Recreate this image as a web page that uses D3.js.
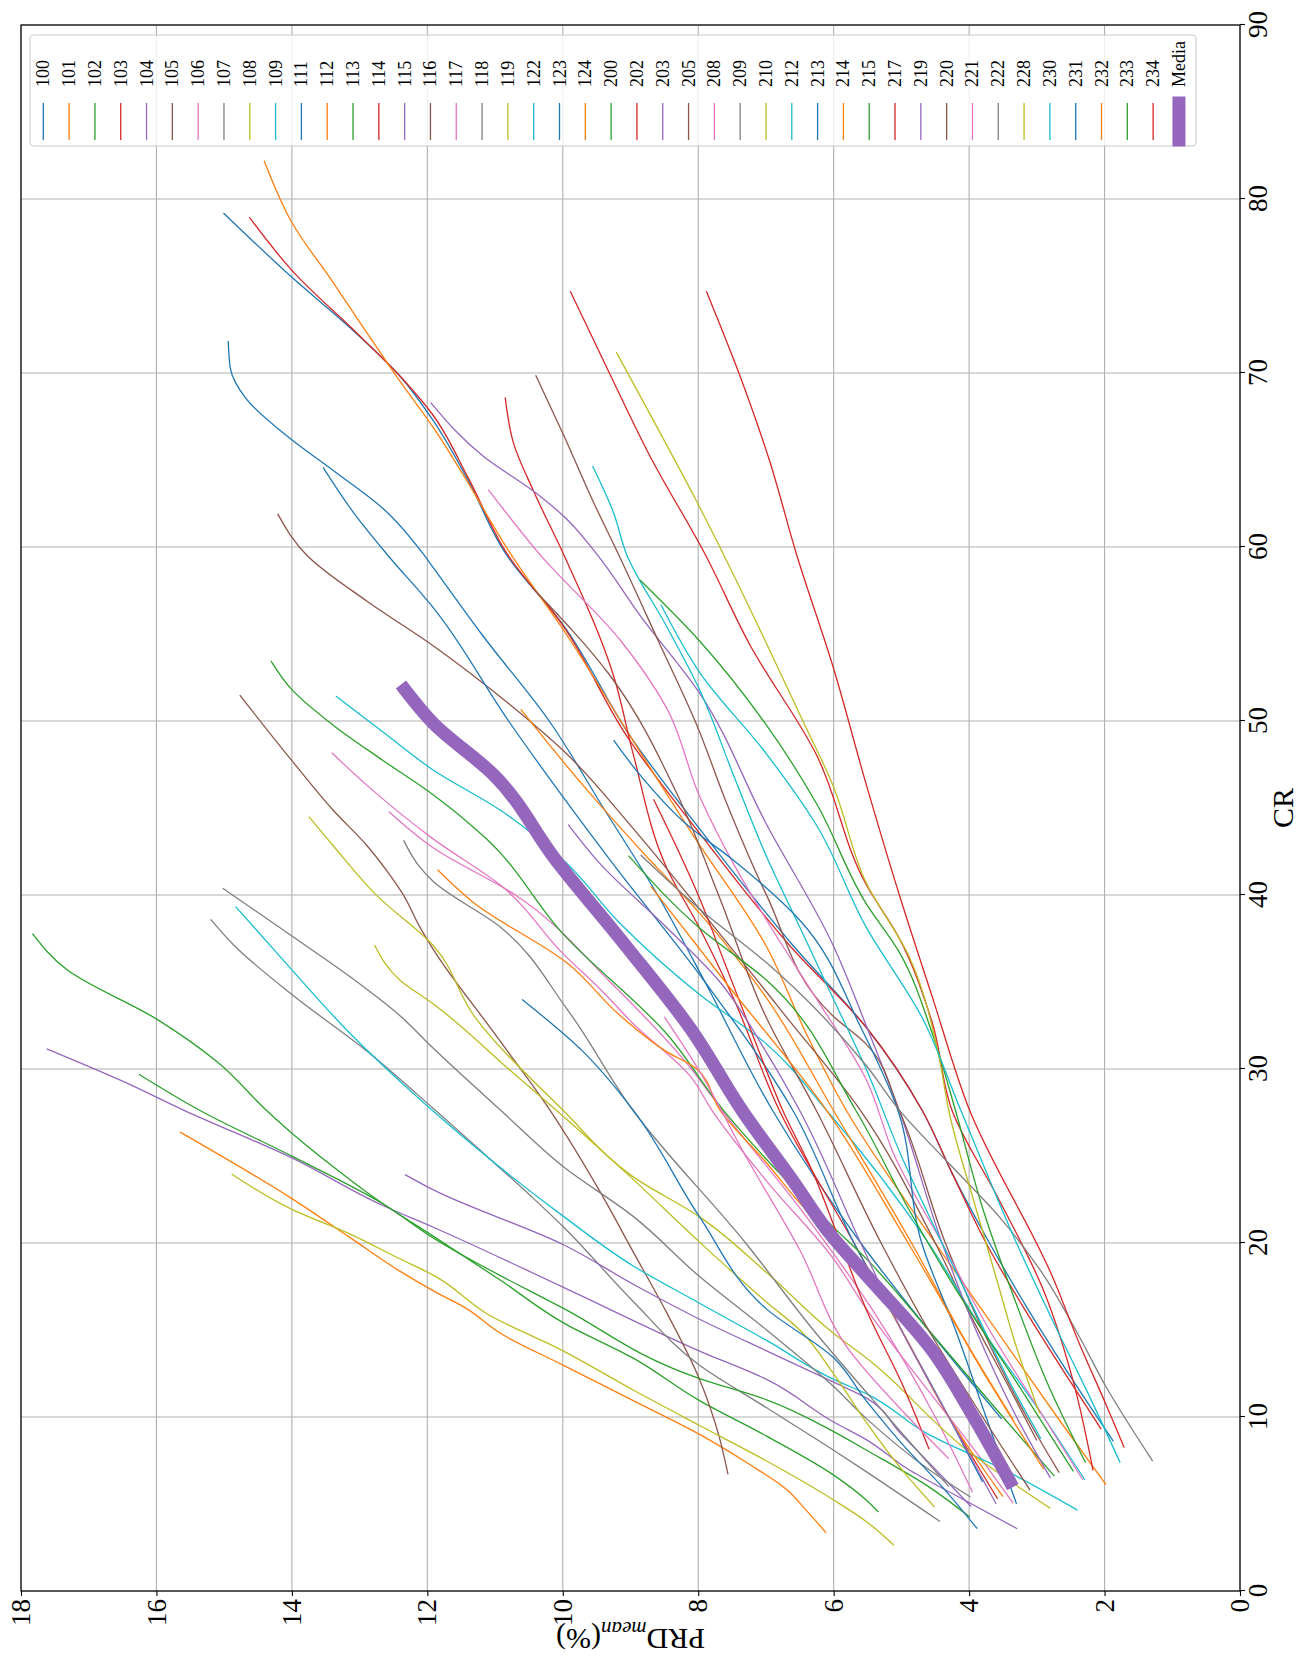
<!DOCTYPE html>
<html>
<head>
<meta charset="utf-8">
<script src="https://cdn.jsdelivr.net/npm/d3@7"></script>
<style>
  html, body { margin: 0; padding: 0; background: #ffffff; }
  svg { display: block; }
  text { font-family: "Liberation Serif", "Times New Roman", serif; fill: #000; }
</style>
</head>
<body>
<svg id="chart" width="1298" height="1664"></svg>
<script>
// Record names in legend order
const records = ["100","101","102","103","104","105","106","107","108","109",
  "111","112","113","114","115","116","117","118","119","122","123","124",
  "200","202","203","205","208","209","210","212","213","214","215","217",
  "219","220","221","222","228","230","231","232","233","234"];

// Axis ticks
const crTicks  = [0, 10, 20, 30, 40, 50, 60, 70, 80, 90];
const prdTicks = [0, 2, 4, 6, 8, 10, 12, 14, 16, 18];

// PRD_mean (%) against CR for each record: [CR, PRD]
const s100 = [[8.6,1.87],[12,2.45],[16,3.1],[20,3.7],[24,4.25],[27.6,4.69],[32.4,5.52],[37.1,6.6],[43.4,7.9],[49.1,9.0],[55.5,9.99],[59.6,10.84],[64,11.42],[67.3,11.92],[69.8,12.4],[72.6,13.14],[75.5,14.0],[79.2,15.01]];
const s101 = [[3.34,6.11],[4.62,6.4],[5.85,6.7],[7.27,7.24],[9.0,7.98],[10.94,8.96],[12.97,9.99],[14.81,10.92],[16.23,11.42],[17.25,11.91],[18.37,12.4],[20.31,13.14],[22.55,14.0],[26.37,15.65]];
const s102 = [[4.54,5.34],[5.23,5.52],[6.66,6.0],[8.9,6.99],[10.94,7.98],[13.38,8.96],[15.41,9.99],[17.86,10.92],[20.41,11.92],[22.24,12.65],[24.38,13.39],[26.31,14.0],[27.6,14.37],[30.4,15.1],[32.85,15.99],[35.7,17.32],[37.78,17.83]];
const s103 = [[9.3,2.05],[12,2.5],[16,3.15],[20,3.75],[24,4.25],[27.6,4.69],[32.4,5.52],[37.1,6.65],[43.4,7.95],[49.1,9.05],[55.5,10.0],[59.6,10.82],[64,11.4],[67.6,11.92],[69.6,12.35],[72.1,12.99],[75.9,14.0],[78.96,14.63]];
const s104 = [[3.58,3.29],[5.5,4.2],[7,4.9],[8.7,5.52],[9.71,6.0],[12.16,6.99],[13.79,7.98],[17.45,9.99],[20.92,11.92],[22.14,12.65],[24.89,14.0],[27.64,15.6],[29.3,16.5],[31.16,17.62]];
const s105 = [[6.7,7.56],[9,7.7],[12.16,7.98],[16.03,8.47],[19.49,8.96],[22.95,9.45],[27.64,10.19],[32,11.0],[36.92,11.92],[38.15,12.11],[39.98,12.35],[41.4,12.6],[42.83,12.89],[44.87,13.39],[47.72,14.0],[51.49,14.77]];
const s106 = [[5.05,3.35],[8,3.9],[11,4.5],[16.23,5.52],[19.08,6.0],[23.56,6.99],[27.64,7.8],[29.5,8.1],[32.6,8.96],[34.6,9.45],[36.6,9.99],[40.5,10.9],[43.24,11.92],[46.3,12.89],[48.17,13.41]];
const s107 = [[3.99,4.43],[6.86,5.52],[8.09,6.0],[10.53,6.99],[12.97,7.98],[16.64,8.96],[20.92,9.99],[22.55,10.43],[25.19,11.18],[27.76,11.92],[31.02,12.89],[34.28,14.0],[37.13,14.86],[38.6,15.2]];
const s108 = [[2.63,5.11],[4.0,5.52],[5.23,6.0],[7.47,6.99],[9.51,7.98],[11.55,8.96],[13.79,9.99],[15.82,11.07],[18.17,11.92],[19.08,12.4],[20.51,13.14],[21.93,14.0],[23.97,14.89]];
const s109 = [[4.65,2.4],[7,3.5],[9,4.6],[11.34,5.52],[12.16,6.0],[14.4,6.99],[16.54,7.98],[18.68,8.96],[21.53,9.99],[25.6,11.32],[27.6,11.92],[30.0,12.6],[32.04,13.14],[35.7,14.0],[39.33,14.83]];
const s111 = [[9.89,3.52],[15,4.6],[20,5.6],[27.6,6.9],[35,7.9],[40,8.6],[45,9.4],[50,10.2],[55,11.2],[58.8,11.91],[59.6,12.06],[62.2,12.65],[64.4,13.39],[66.25,14.03],[68.5,14.67],[70.3,14.91],[71.84,14.94]];
const s112 = [[6.11,1.98],[10,2.7],[15,3.6],[20,4.5],[27.6,5.81],[32,6.4],[37.1,7.0],[43.4,8.07],[49.1,9.0],[55,9.95],[59.6,10.77],[64.4,11.51],[66.8,11.9],[69.5,12.4],[72.35,12.9],[75.2,13.39],[78.65,14.0],[82.2,14.41]];
const s113 = [[4.25,3.99],[6.0,4.6],[8.1,5.52],[9.16,6.0],[10.99,6.99],[12.21,7.98],[16.24,9.99],[20.3,11.92],[22.24,12.65],[24.99,14.0],[27.6,15.35],[29.7,16.26]];
const s114 = [[5.3,3.58],[10,4.3],[15,5.0],[20,5.7],[27.6,6.8],[34.07,7.48],[38.1,7.98],[41.6,8.47],[48.1,8.96],[52.6,9.25],[59.6,9.99],[63.2,10.43],[66.0,10.73],[68.6,10.85]];
const s115 = [[4.85,3.97],[7,4.5],[9,5.0],[11.1,5.52],[12.0,6.0],[13.8,6.99],[15.62,7.98],[17.5,8.9],[19.9,9.99],[23.05,11.91],[23.93,12.33]];
const s116 = [[8.65,3.0],[12,3.45],[16,4.0],[20,4.5],[27.6,5.6],[33,6.7],[39.2,7.98],[44,9.0],[48.1,9.94],[51,10.8],[54.34,11.92],[56.88,12.89],[59.53,13.78],[61.9,14.21]];
const s117 = [[5.68,3.95],[10,4.5],[16,5.4],[22,6.5],[27.64,7.65],[30,8.1],[35,9.3],[40,10.7],[42.73,11.92],[44.8,12.57]];
const s118 = [[5.4,3.98],[7,4.6],[9.92,5.52],[11.75,6.0],[15.0,6.99],[18.07,7.98],[21.53,8.96],[24.38,9.99],[27.64,10.92],[31.22,11.92],[33.05,12.4],[35.3,13.14],[37.64,14.0],[40.39,15.02]];
const s119 = [[4.75,2.8],[8,4.0],[13.4,5.52],[14.8,6.0],[18.3,6.99],[21.5,7.98],[23.8,8.96],[27.64,10.0],[33,11.3],[37.13,11.92],[39.98,12.75],[42.83,13.39],[44.5,13.75]];
const s122 = [[6.38,2.29],[10,2.9],[15,3.8],[20,4.6],[27.6,6.1],[31.43,6.99],[34.28,7.98],[38.35,9.15],[42.0,9.99],[44.87,10.92],[47.2,11.92],[49.35,12.65],[51.43,13.35]];
const s123 = [[6.27,3.8],[10,4.3],[15,5.0],[20,5.7],[27.6,6.6],[35,7.9],[42,9.3],[50,10.8],[56.5,11.91],[59.6,12.6],[61.98,13.09],[64.58,13.54]];
const s124 = [[9.84,3.35],[14,4.0],[20,4.85],[27.6,6.0],[34.07,6.99],[38.96,7.98],[42.2,8.76],[46.3,9.7],[50.67,10.62]];
const s200 = [[6.6,2.74],[10,3.5],[15,4.6],[19.1,5.52],[20.9,6.0],[24.8,6.99],[27.64,7.63],[32.04,8.47],[37.74,9.99],[43.2,11.12],[45.78,11.92],[47.72,12.65],[49.76,13.39],[51.8,14.0],[53.46,14.31]];
const s202 = [[6.93,2.17],[12.16,2.47],[17.45,2.92],[22.5,3.56],[27.6,4.25],[32.6,4.54],[37.5,5.03],[40.6,5.52],[48.1,6.26],[54.4,7.24],[59.6,7.9],[65.2,8.71],[69.9,9.3],[74.7,9.89]];
const s203 = [[6.5,2.8],[10,3.3],[15,3.9],[20,4.4],[27.6,5.03],[32.6,5.53],[37.13,6.01],[44.05,6.99],[51.6,7.98],[56.07,8.86],[59.6,9.5],[61.6,9.94],[63.2,10.43],[65.2,11.17],[68.3,11.95]];
const s205 = [[6.8,2.67],[10,3.15],[15,3.8],[20,4.35],[27.6,5.03],[31.43,5.52],[33.05,6.01],[39.98,6.99],[45.27,7.58],[49.76,8.02],[54.44,8.57],[59.6,9.18],[62.6,9.55],[66.45,9.99],[69.87,10.4]];
const s208 = [[6.38,2.32],[10,2.9],[15,3.7],[20,4.4],[25,5.1],[29.4,5.52],[34.07,6.26],[38.55,6.99],[41.8,7.48],[45.68,7.98],[50.77,8.47],[54.64,9.15],[59.53,10.33],[63.3,11.1]];
const s209 = [[6.0,4.3],[10,5.2],[15,6.3],[20,7.3],[27.6,8.96],[33.46,9.94],[38.15,10.92],[40.8,11.92],[41.6,12.11],[43.14,12.35]];
const s210 = [[4.82,4.51],[7,5.0],[9.7,5.52],[12.48,6.0],[15.0,6.5],[16.6,6.99],[20.05,7.98],[23.8,9.0],[27.64,10.1],[30,10.8],[33.77,11.92],[35.09,12.4],[37.13,12.78]];
const s212 = [[8.75,2.94],[12,3.4],[16,3.9],[20,4.4],[25,5.0],[30.0,5.52],[34.07,6.01],[38.15,6.5],[42.2,6.99],[46.9,7.48],[51.8,7.98],[55.46,8.47],[59.6,9.06],[61.97,9.25],[64.66,9.56]];
const s213 = [[5.0,3.3],[10,3.75],[15,4.2],[20,4.7],[27.6,5.05],[32.4,5.6],[38.55,6.5],[42,7.48],[44.05,8.17],[46.9,8.86],[48.9,9.25]];
const s214 = [[5.42,3.5],[10,4.3],[15,5.0],[18.5,5.52],[22.3,6.5],[24.6,6.99],[27.64,7.68],[30,8.02],[31,8.47],[33.06,9.15],[36.1,9.94],[39.57,11.32],[41.45,11.85]];
const s215 = [[7.37,2.28],[12,2.85],[17,3.35],[22,3.8],[27.6,4.2],[32.0,4.54],[36.7,5.03],[39.5,5.52],[45.3,6.26],[49.75,6.99],[54.6,7.98],[58.1,8.86]];
const s217 = [[8.14,4.59],[12,5.0],[16,5.5],[20,5.9],[24,6.3],[27.6,6.75],[32,7.2],[36,7.6],[40,8.0],[43,8.35],[45.5,8.66]];
const s219 = [[5.0,3.6],[10,4.3],[15,5.0],[20,5.6],[27.6,6.5],[31,7.0],[35.1,7.7],[38.15,8.47],[41.8,9.45],[44.05,9.92]];
const s220 = [[5.8,3.1],[10,3.8],[15,4.6],[20,5.3],[27.64,6.26],[33,7.0],[40,7.7],[45.7,8.3],[52.6,9.3],[57.7,10.46]];
const s221 = [[7.6,4.3],[10,4.9],[14,5.8],[19.6,6.5],[25,7.3],[30,8.0],[33,8.5]];
const s222 = [[7.47,1.29],[11.75,1.98],[14.6,2.37],[18.27,2.92],[21.53,3.56],[24.58,4.3],[27.64,5.03],[30.2,5.52],[36.1,6.99],[39.2,7.98],[42.3,8.85]];
const s228 = [[10.22,2.96],[14,3.3],[18,3.6],[22,3.9],[27.6,4.3],[30.6,4.44],[36.5,4.89],[40.7,5.52],[46.3,6.01],[50.37,6.5],[54.44,6.99],[59.6,7.63],[62.6,8.02],[67.26,8.66],[71.2,9.21]];
const s230 = [[7.37,1.77],[11,2.2],[15,2.7],[20,3.3],[27.6,4.12],[33,4.7],[38.15,5.52],[44.05,6.26],[48.1,6.99],[52.8,7.98],[56.68,8.55]];
const s231 = [[3.58,3.88],[6,4.4],[8.5,5.0],[10.94,5.52],[13.4,6.0],[16.2,6.99],[21.5,7.98],[27.64,8.96],[31,9.7],[34.0,10.6]];
const s232 = [[7.0,2.9],[12,3.7],[20,4.9],[27.6,6.1],[35,7.6],[40.5,8.7]];
const s233 = [[6.88,2.46],[12,3.3],[18,4.3],[22,4.9],[27.6,5.67],[35.1,6.99],[38.1,7.98],[42.26,9.03]];
const s234 = [[8.25,1.71],[10.73,1.98],[14.2,2.37],[18.07,2.77],[27.7,4.0],[34.1,4.54],[40,5.03],[46.5,5.53],[53,6.0],[59.6,6.55],[65,6.95],[69.9,7.39],[74.7,7.88]];

// Mean curve over all records
const media = [[6.3,3.4],[10.1,3.95],[13.8,4.54],[18.2,5.53],[20.5,6.05],[23.56,6.6],[27.6,7.35],[32.24,8.1],[37.13,9.08],[42.0,10.1],[46.9,11.02],[49.9,11.92],[51.8,12.33]];

const seriesValues = [s100,s101,s102,s103,s104,s105,s106,s107,s108,s109,
  s111,s112,s113,s114,s115,s116,s117,s118,s119,s122,s123,s124,
  s200,s202,s203,s205,s208,s209,s210,s212,s213,s214,s215,s217,
  s219,s220,s221,s222,s228,s230,s231,s232,s233,s234];

const palette = ["#1f77b4","#ff7f0e","#2ca02c","#d62728","#9467bd",
                 "#8c564b","#e377c2","#7f7f7f","#bcbd22","#17becf"];

// The figure is laid out landscape (CR horizontal) and then turned a quarter
// turn counter-clockwise onto the portrait page.
const PAGE_H = 1664;
const svg = d3.select("#chart");
const g = svg.append("g").attr("transform", `translate(0,${PAGE_H}) rotate(-90)`);

const x = d3.scaleLinear().domain([0, 90]).range([73, 1639]);
const y = d3.scaleLinear().domain([0, 18]).range([1240, 21]);

// grid
const grid = g.append("g").attr("stroke", "#b0b0b0").attr("stroke-width", 1.1);
grid.selectAll("line.gx").data(crTicks).join("line")
  .attr("x1", d => x(d)).attr("x2", d => x(d))
  .attr("y1", y(0)).attr("y2", y(18));
grid.selectAll("line.gy").data(prdTicks).join("line")
  .attr("y1", d => y(d)).attr("y2", d => y(d))
  .attr("x1", x(0)).attr("x2", x(90));

// record curves
const line = d3.line()
  .x(d => x(d[0])).y(d => y(d[1]))
  .curve(d3.curveMonotoneX);

const plot = g.append("g").attr("fill", "none");
records.forEach((rec, i) => {
  const pts = seriesValues[i].slice().sort((a, b) => a[0] - b[0]);
  plot.append("path")
    .attr("d", line(pts))
    .attr("stroke", palette[i % 10])
    .attr("stroke-width", 1.3)
    .attr("stroke-linejoin", "round");
});

// mean curve
plot.append("path")
  .attr("d", line(media.slice().sort((a, b) => a[0] - b[0])))
  .attr("stroke", palette[records.length % 10])
  .attr("stroke-width", 13)
  .attr("stroke-linecap", "square")
  .attr("stroke-linejoin", "round");

// axes
const xAxis = d3.axisBottom(x).tickValues(crTicks).tickSize(5).tickPadding(3).tickFormat(d3.format("d"));
const yAxis = d3.axisLeft(y).tickValues(prdTicks).tickSize(5).tickPadding(3).tickFormat(d3.format("d"));

const gx = g.append("g").attr("transform", `translate(0,${y(0)})`).call(xAxis);
const gy = g.append("g").attr("transform", `translate(${x(0)},0)`).call(yAxis);
[gx, gy].forEach(a => {
  a.select(".domain").remove();
  a.selectAll(".tick line").attr("stroke", "#000").attr("stroke-width", 1.1);
  a.selectAll(".tick text")
    .attr("font-family", "Liberation Serif, Times New Roman, serif")
    .attr("font-size", 27).attr("fill", "#000");
});

// frame
g.append("rect")
  .attr("x", x(0)).attr("y", y(18))
  .attr("width", x(90) - x(0)).attr("height", y(0) - y(18))
  .attr("fill", "none").attr("stroke", "#000").attr("stroke-width", 1.2);

// axis titles
g.append("text")
  .attr("x", (x(0) + x(90)) / 2).attr("y", 1293)
  .attr("text-anchor", "middle").attr("font-size", 30)
  .text("CR");

const yl = g.append("text")
  .attr("transform", `translate(35,${(y(0) + y(18)) / 2}) rotate(-90)`)
  .attr("text-anchor", "middle").attr("font-size", 30);
yl.append("tspan").text("PRD");
yl.append("tspan").attr("font-size", 21).attr("font-style", "italic").attr("dy", 7).text("mean");
yl.append("tspan").attr("dy", -7).text("(%)");

// legend
const legendNames = records.concat(["Media"]);
const lg = g.append("g");
lg.append("rect")
  .attr("x", 1518).attr("y", 30).attr("width", 111).attr("height", 1166)
  .attr("rx", 4).attr("ry", 4)
  .attr("fill", "#ffffff").attr("fill-opacity", 0.8)
  .attr("stroke", "#cccccc").attr("stroke-width", 1.1);

legendNames.forEach((name, i) => {
  const yy = 43.3 + 25.81 * i;
  const isMean = name === "Media";
  lg.append("line")
    .attr("x1", 1524).attr("x2", 1561).attr("y1", yy).attr("y2", yy)
    .attr("stroke", palette[i % 10])
    .attr("stroke-width", isMean ? 13 : 1.3)
    .attr("stroke-linecap", isMean ? "square" : "butt");
  lg.append("text")
    .attr("x", 1577).attr("y", yy + 6)
    .attr("font-size", 18)
    .text(name);
});
</script>
</body>
</html>
